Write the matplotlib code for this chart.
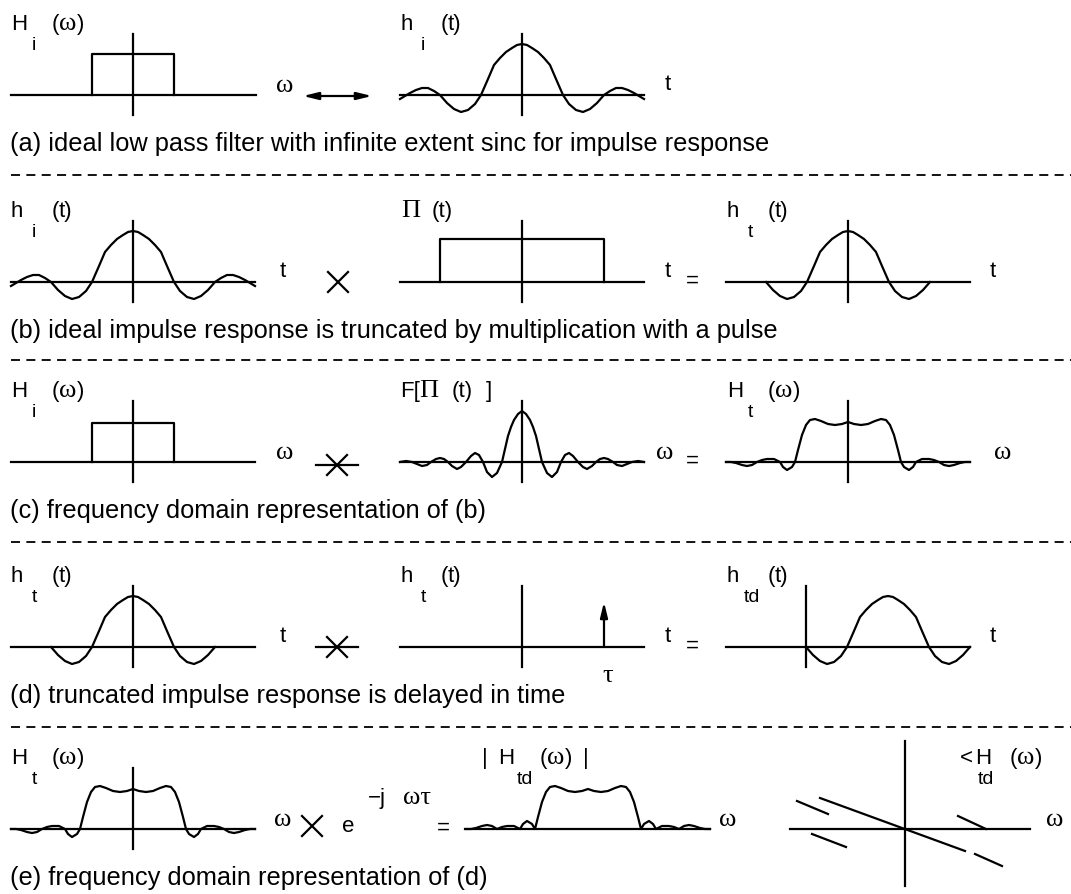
import numpy as np
import matplotlib.pyplot as plt

# curve shapes: offset from centre and height (half, mirrored)
sinc_dx = [0, 5, 10, 16, 22, 28, 34, 41, 47, 54, 61, 68, 75, 82, 88, 94, 100, 106, 112, 117, 122]
sinc_h = [51, 50, 47, 43, 37, 30, 16, 0, -9, -15, -17, -14, -8, 0, 4, 7, 7, 5, 2, -1, -4]

narrow_dx = [0, 4, 8, 11, 14, 17, 20, 25, 30, 35, 39, 43, 47, 51, 56, 61, 65, 70, 74,
             78, 82, 86, 91, 95, 100, 105, 110, 116, 122]
narrow_h = [51, 48, 42, 35, 26, 13, 0, -11, -15, -10, 0, 7, 9, 6, 0, -5, -7, -4, 0,
            3, 4, 3, 0, -3, -4, -2, 0, 1, 0]

conv_dx = [0, 6, 13, 20, 27, 33, 38, 42, 46, 50, 53, 56, 61, 65, 68, 74, 81, 86, 91,
           96, 101, 106, 112, 117, 122]
conv_h = [40, 38, 37, 38, 41, 43, 42, 37, 27, 12, 0, -5, -8, -5, 0, 3, 3, 2, 0,
          -3, -4, -3, -1, 0, 0]

rect_half = 41      # H_i(w) pass band
rect_height = 41
pulse_half = 82     # Pi(t)
pulse_height = 43
trunc_n = 14        # sinc points kept by the pulse
delay = 82          # tau

# phase of H_td: segments as (dx0, dy0, dx1, dy1) about the origin
phase_segs = [(-85, 31, 60, -22),
              (-108, 28, -77, 15),
              (-93, -5, -59, -18),
              (53, 13, 81, 0),
              (70, -25, 97, -37)]

captions = [
    "(a) ideal low pass filter with infinite extent sinc for impulse response",
    "(b) ideal impulse response is truncated by multiplication with a pulse",
    "(c) frequency domain representation of (b)",
    "(d) truncated impulse response is delayed in time",
    "(e) frequency domain representation of (d)",
]
row_base = [96, 283, 463, 648, 830]
dash_y = [176, 361, 543, 728]

LW = 1.6
SANS = 'Liberation Sans'
SERIF = 'Liberation Serif'
FS = 16
FS_SUB = 14
FS_GREEK = 19
FS_CAP = 18.3

fig = plt.figure(figsize=(10.71, 8.95), dpi=100)
ax = fig.add_axes([0, 0, 1, 1])
ax.set_xlim(0, 1071)
ax.set_ylim(895, 0)
ax.axis('off')


def mirror(dx, h):
    dx = np.asarray(dx, float)
    h = np.asarray(h, float)
    return np.concatenate([-dx[::-1], dx[1:]]), np.concatenate([h[::-1], h[1:]])


def curve(cx, base, dx, h, **kw):
    x, y = mirror(dx, h)
    ax.plot(cx + x, base - y, color='k', lw=LW, solid_joinstyle='round', **kw)


def axes_cross(cx, base, left=122, right=122, up=61, down=20, vx=None):
    ax.plot([cx - left, cx + right], [base, base], 'k', lw=LW)
    vx = cx if vx is None else vx
    ax.plot([vx, vx], [base - up, base + down], 'k', lw=LW)


def txt(x, y, s, fam=SANS, size=FS, ha='left', va='baseline'):
    ax.text(x, y, s, family=fam, fontsize=size, ha=ha, va=va)


def greek(x, y, s, ha='center'):
    txt(x, y, s, fam=SERIF, size=FS_GREEK, ha=ha)


def label(x, base, main, sub, arg, sub_dx=22, arg_dx=42):
    # label of a small plot: main letter, subscript, argument
    y = base - 66
    txt(x + 1, y, main)
    txt(x + sub_dx, y + 20, sub, size=FS_SUB)
    txt(x + arg_dx, y, "(")
    if arg == 'ω':
        greek(x + arg_dx + 7, y, arg, ha='left')
        txt(x + arg_dx + 25, y, ")")
    else:
        txt(x + arg_dx + 7, y, "t)")


def times(cx, cy, bar=False):
    s = 10
    ax.plot([cx - s, cx + s], [cy - s, cy + s], 'k', lw=LW)
    ax.plot([cx - s, cx + s], [cy + s, cy - s], 'k', lw=LW)
    if bar:
        ax.plot([cx - 21, cx + 21], [cy, cy], 'k', lw=LW)


def rect(cx, base, half, height):
    ax.plot([cx - half, cx - half, cx + half, cx + half],
            [base, base - height, base - height, base], 'k', lw=LW)


# dashed separators
for y in dash_y:
    ax.plot([11, 1071], [y, y], color='k', lw=1.3, dashes=(5, 3.5))

# captions
for cap, b in zip(captions, row_base):
    txt(10, b + 55, cap, size=FS_CAP)

# ---- row (a)
b = row_base[0]
axes_cross(133, b, left=122, right=123)
rect(133, b, rect_half, rect_height)
label(10, b, "H", "i", "ω")
greek(285, b - 4, "ω")
ax.annotate('', xy=(372, b + 1), xytext=(303, b + 1),
            arrowprops=dict(arrowstyle='<|-|>,head_length=0.9,head_width=0.22',
                            lw=LW, color='k', shrinkA=0, shrinkB=0))
axes_cross(522, b)
curve(522, b, sinc_dx, sinc_h)
label(399, b, "h", "i", "t")
txt(668, b - 6, "t", ha='center')

# ---- row (b)
b = row_base[1]
axes_cross(133, b)
curve(133, b, sinc_dx, sinc_h)
label(10, b, "h", "i", "t")
txt(283, b - 6, "t", ha='center')
times(338, b)
axes_cross(522, b)
rect(522, b, pulse_half, pulse_height)
txt(401, b - 66, "Π", fam=SERIF, size=FS_GREEK)
txt(432, b - 66, "(t)")
txt(668, b - 6, "t", ha='center')
txt(692, b + 4, "=", ha='center')
axes_cross(848, b)
curve(848, b, sinc_dx[:trunc_n], sinc_h[:trunc_n])
label(726, b, "h", "t", "t")
txt(993, b - 6, "t", ha='center')

# ---- row (c)
b = row_base[2]
axes_cross(133, b)
rect(133, b, rect_half, rect_height - 2)
label(10, b, "H", "i", "ω")
greek(285, b - 4, "ω")
times(337, b + 3, bar=True)
axes_cross(522, b)
curve(522, b, narrow_dx, narrow_h)
txt(400, b - 66, "F[")
txt(419, b - 66, "Π", fam=SERIF, size=FS_GREEK)
txt(452, b - 66, "(t)")
txt(486, b - 66, "]")
greek(665, b - 4, "ω")
txt(692, b + 4, "=", ha='center')
axes_cross(848, b)
curve(848, b, conv_dx, conv_h)
label(726, b, "H", "t", "ω")
greek(1003, b - 4, "ω")

# ---- row (d)
b = row_base[3]
axes_cross(133, b)
curve(133, b, sinc_dx[:trunc_n], sinc_h[:trunc_n])
label(10, b, "h", "t", "t")
txt(283, b - 6, "t", ha='center')
times(337, b, bar=True)
axes_cross(522, b)
ax.annotate('', xy=(522 + delay, b - 45), xytext=(522 + delay, b),
            arrowprops=dict(arrowstyle='-|>,head_length=0.9,head_width=0.22',
                            lw=LW, color='k', shrinkA=0, shrinkB=0))
greek(522 + delay + 4, b + 34, "τ")
label(399, b, "h", "t", "t")
txt(668, b - 6, "t", ha='center')
txt(692, b + 4, "=", ha='center')
axes_cross(848, b, vx=848 - 42)
x, y = mirror(sinc_dx[:trunc_n], sinc_h[:trunc_n])
ax.plot(848 - 42 + delay + x, b - y, 'k', lw=LW)
label(726, b, "h", "td", "t", sub_dx=18)
txt(993, b - 6, "t", ha='center')

# ---- row (e)
b = row_base[4]
axes_cross(133, b)
curve(133, b, conv_dx, conv_h)
label(10, b, "H", "t", "ω")
greek(283, b - 4, "ω")
times(312, b - 3)
txt(348, b + 2, "e", ha='center')
txt(368, b - 26, "−j")
greek(403, b - 26, "ωτ", ha='left')
txt(443, b + 4, "=", ha='center')
ax.plot([465, 710], [b, b], 'k', lw=LW)
curve(588, b, conv_dx, np.abs(conv_h))
txt(482, b - 66, "|")
txt(498, b - 66, "H")
txt(517, b - 46, "td", size=FS_SUB)
txt(540, b - 66, "(")
greek(547, b - 66, "ω", ha='left')
txt(565, b - 66, ")")
txt(583, b - 66, "|")
greek(728, b - 4, "ω")
axes_cross(905, b, left=115, right=125, up=88, down=57)
for x0, y0, x1, y1 in phase_segs:
    ax.plot([905 + x0, 905 + x1], [b - y0, b - y1], 'k', lw=LW)
txt(960, b - 66, "<")
txt(975, b - 66, "H")
txt(978, b - 46, "td", size=FS_SUB)
txt(1010, b - 66, "(")
greek(1017, b - 66, "ω", ha='left')
txt(1035, b - 66, ")")
greek(1055, b - 4, "ω")

fig.savefig("out.png", dpi=100)
